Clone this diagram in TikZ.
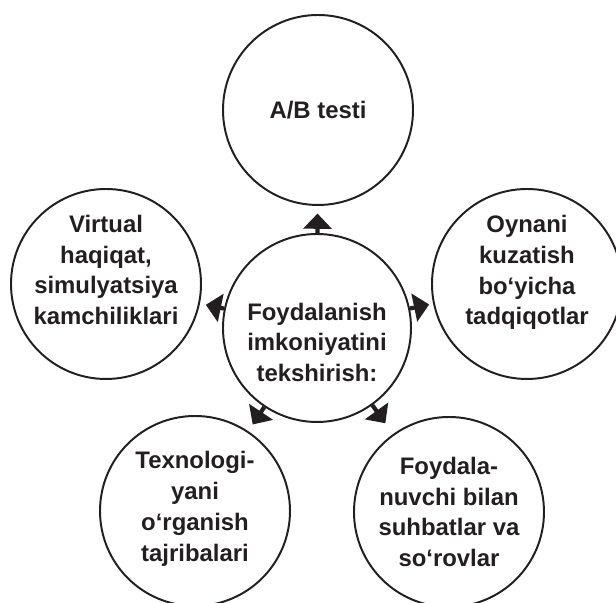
\documentclass[tikz,border=0pt]{standalone}
\usepackage{fontspec}
\setmainfont{Liberation Sans}
\usetikzlibrary{arrows.meta}
\definecolor{ink}{HTML}{231F20}

\begin{document}
\begin{tikzpicture}[
	bubble/.style={circle, draw=ink, line width=1.4pt, minimum size=4.75cm, inner sep=0pt},
	txt/.style={font=\bfseries\fontsize{17}{22}\selectfont, align=center, text=ink, inner sep=0pt},
	arr/.style={draw=ink, line width=3pt, -{Triangle[length=0.38cm, width=0.7cm]}}]
	\useasboundingbox (0,0) rectangle (15.4,15.075);
	% circles
	\node[bubble, minimum size=4.7cm] (cC) at (7.925,6.875) {};
	\node[bubble] (cT) at (7.95,12.325) {};
	\node[bubble] (cL) at (2.65,7.975) {};
	\node[bubble] (cR) at (13.175,7.975) {};
	\node[bubble] (cBL) at (4.875,2.3) {};
	\node[bubble] (cBR) at (11.225,2.275) {};
	% texts
	\node[txt] (tC) at ([yshift=-0.36cm]cC.center) {Foydalanish\\imkoniyatini\\tekshirish:};
	\node[txt] (tT) at (cT.center) {A/B testi};
	\node[txt] (tL) at ([yshift=0.35cm]cL.center) {Virtual\\haqiqat,\\simulyatsiya\\kamchiliklari};
	\node[txt] (tR) at ([yshift=0.29cm]cR.center) {Oynani\\kuzatish\\bo‘yicha\\tadqiqotlar};
	\node[txt] (tBL) at ([yshift=0.06cm]cBL.center) {Texnologi-\\yani\\o‘rganish\\tajribalari};
	\node[txt] (tBR) at (cBR.center) {Foydala-\\nuvchi bilan\\suhbatlar va\\so‘rovlar};
	% arrows
	\draw[arr, shorten >=0.19cm] (cC) -- (cT);
	\draw[arr, shorten >=0.15cm] (cC) -- (cL);
	\draw[arr, shorten >=0.1cm] (cC) -- (cR);
	\draw[arr, shorten >=0.2cm] (cC) -- (cBL);
	\draw[arr, shorten >=0.33cm] (cC) -- (cBR);
\end{tikzpicture}
\end{document}
